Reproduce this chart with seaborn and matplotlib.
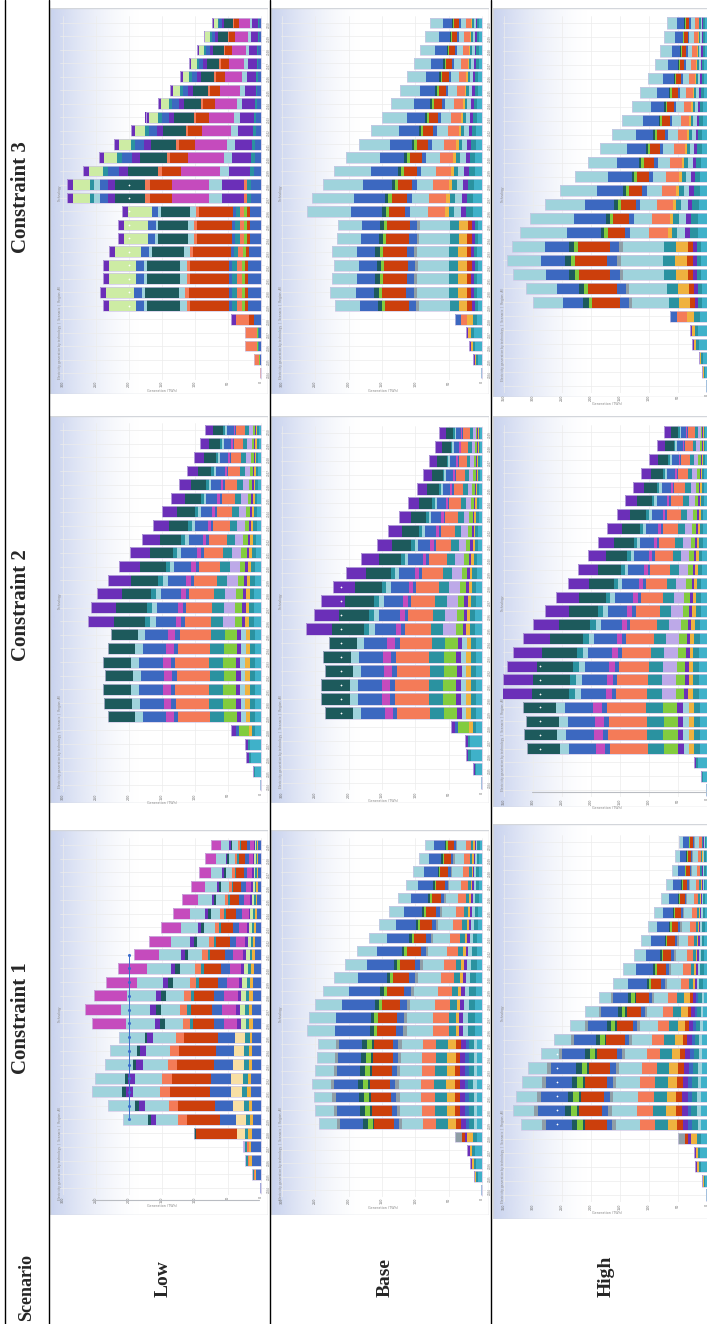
import matplotlib
matplotlib.use("Agg")
import matplotlib.pyplot as plt
from matplotlib.lines import Line2D
from matplotlib.patches import Rectangle
from matplotlib.colors import to_rgb
import numpy as np
import pandas as pd
import seaborn as sns

W, H = 707, 1324
first_year = 2024

scenarios = ["Low", "Base", "High"]
constraints = ["Constraint 1", "Constraint 2", "Constraint 3"]

tech_colors = {
    "lb": "#9fd3dc", "bl": "#3c68c0", "rd": "#cc3f0c", "sa": "#f47b58",
    "dt": "#1d5a5c", "mg": "#c54bbd", "pu": "#6b2fb8", "lg": "#cdeca4",
    "te": "#2a92a0", "la": "#bda9e8", "go": "#efb23f", "gr": "#82cc3e",
    "py": "#f8dfa4", "cy": "#3fb1c9", "gy": "#8f9ea6",
}

# bar totals per year, first year (bottom bar) first
low_c3_totals = [2, 11, 24, 24, 45, 240, 244, 240, 240, 230, 217, 216, 210, 294,
                 294, 269, 245, 222, 197, 175, 156, 138, 122, 109, 97, 87, 74]
low_c2_totals = [2, 12, 22, 24, 45, 232, 238, 240, 236, 240, 232, 228, 262, 258,
                 248, 232, 215, 198, 180, 164, 150, 136, 124, 112, 102, 93, 85]
low_c1_totals = [2, 14, 25, 27, 102, 209, 232, 256, 251, 236, 229, 215, 256, 266,
                 253, 235, 216, 193, 170, 152, 134, 119, 106, 94, 85, 76]
base_c3_totals = [2, 13, 20, 24, 40, 220, 228, 225, 222, 225, 218, 216, 262, 255,
                  238, 222, 204, 184, 166, 150, 136, 123, 112, 102, 93, 85, 78]
base_c2_totals = [2, 13, 24, 25, 47, 235, 241, 241, 236, 239, 229, 264, 252, 241,
                  224, 204, 181, 158, 141, 125, 111, 97, 88, 79, 70, 64]
base_c1_totals = [2, 12, 18, 22, 40, 245, 250, 252, 255, 250, 248, 246, 262, 260,
                  250, 238, 222, 205, 188, 170, 154, 140, 126, 114, 104, 95, 86]
high_c3_totals = [2, 8, 14, 26, 30, 64, 300, 312, 335, 345, 336, 322, 305, 280,
                  253, 228, 206, 184, 164, 146, 129, 115, 101, 89, 81, 74, 69]
high_c2_totals = [2, 10, 22, 310, 315, 312, 318, 355, 352, 345, 335, 318, 300, 280,
                  260, 240, 222, 205, 188, 172, 156, 142, 128, 114, 100, 86, 74]
high_c1_totals = [2, 8, 20, 23, 50, 320, 335, 329, 319, 309, 287, 263, 236, 210,
                  186, 162, 145, 126, 114, 102, 91, 79, 70, 60, 56, 49]

# which technology mix each bar follows
low_c3_phases = "sssse" + "p" * 8 + "kk" + "d" * 12
low_c2_phases = "sssse" + "p" * 7 + "d" * 15
low_c1_phases = "sssse" + "p" * 7 + "d" * 14
base_c3_phases = "sssse" + "p" * 7 + "d" * 15
base_c2_phases = "sssse" + "p" * 6 + "d" * 15
base_c1_phases = "sssse" + "p" * 7 + "d" * 15
high_c3_phases = "ssssse" + "p" * 5 + "d" * 16
high_c2_phases = "sss" + "p" * 4 + "d" * 20
high_c1_phases = "sssse" + "p" * 10 + "d" * 11

# technology shares (%), listed from the axis outwards
low_c3_mix = {
    "s": [("bl", 12), ("te", 8), ("gr", 8), ("sa", 72)],
    "e": [("bl", 25), ("rd", 15), ("sa", 45), ("pu", 15)],
    "p": [("bl", 8), ("rd", 2), ("gr", 2), ("sa", 3), ("te", 3), ("bl", 2), ("rd", 25),
          ("sa", 2), ("lb", 4), ("dt", 21), ("lb", 2), ("bl", 5), ("lg", 17), ("pu", 4)],
    "k": [("bl", 5), ("te", 2), ("sa", 2), ("pu", 11), ("lb", 7), ("mg", 19), ("rd", 11),
          ("sa", 3), ("dt", 15), ("pu", 4), ("bl", 4), ("lb", 3), ("te", 2), ("lg", 9), ("pu", 3)],
    "d": [("bl", 4), ("te", 2), ("pu", 12), ("lb", 5), ("mg", 22), ("rd", 11), ("sa", 2),
          ("dt", 17), ("pu", 5), ("bl", 6), ("te", 3), ("lg", 8), ("pu", 3)],
}
low_c1_mix = {
    "s": [("bl", 55), ("go", 15), ("sa", 10), ("te", 10), ("la", 10)],
    "e": [("bl", 14), ("go", 5), ("te", 5), ("py", 12), ("rd", 61), ("dt", 3)],
    "p": [("bl", 6), ("go", 2), ("te", 3), ("py", 7), ("bl", 12), ("rd", 24), ("sa", 6),
          ("lb", 16), ("pu", 4), ("dt", 2), ("lb", 18)],
    "d": [("bl", 5), ("go", 2), ("te", 2), ("lg", 3), ("pu", 2), ("mg", 8), ("bl", 6),
          ("rd", 12), ("te", 2), ("sa", 4), ("lb", 11), ("dt", 3), ("pu", 3), ("lb", 17), ("mg", 20)],
}
c2_mix = {
    "s": [("cy", 70), ("te", 15), ("pu", 15)],
    "e": [("cy", 20), ("te", 10), ("go", 10), ("gr", 35), ("bl", 10), ("pu", 15)],
    "p": [("cy", 4), ("te", 3), ("go", 3), ("lb", 3), ("pu", 3), ("gr", 8), ("te", 9),
          ("sa", 21), ("bl", 3), ("mg", 5), ("bl", 15), ("lb", 5), ("dt", 18)],
    "d": [("cy", 4), ("te", 3), ("go", 2), ("pu", 2), ("gr", 4), ("la", 7), ("te", 7),
          ("sa", 15), ("bl", 2), ("mg", 3), ("bl", 12), ("lb", 3), ("te", 3), ("dt", 18), ("pu", 15)],
}
c3_mix = {
    "s": [("cy", 50), ("te", 20), ("go", 15), ("pu", 15)],
    "e": [("cy", 20), ("te", 15), ("go", 20), ("sa", 25), ("bl", 20)],
    "p": [("cy", 3), ("te", 2), ("pu", 2), ("rd", 3), ("go", 6), ("te", 6), ("lb", 21),
          ("gy", 2), ("bl", 5), ("rd", 16), ("gr", 2), ("dt", 3), ("bl", 12), ("lb", 17)],
    "d": [("cy", 5), ("te", 4), ("pu", 3), ("lb", 4), ("te", 3), ("go", 2), ("sa", 10),
          ("lb", 10), ("bl", 3), ("rd", 9), ("gr", 2), ("dt", 2), ("bl", 18), ("lb", 25)],
}
c1_mix = {
    "s": [("cy", 50), ("te", 20), ("go", 15), ("pu", 15)],
    "e": [("cy", 20), ("te", 15), ("go", 20), ("pu", 10), ("rd", 10), ("gy", 25)],
    "p": [("cy", 3), ("lb", 2), ("te", 3), ("bl", 2), ("pu", 3), ("rd", 3), ("go", 5),
          ("te", 7), ("sa", 8), ("lb", 13), ("gy", 2), ("bl", 3), ("rd", 12), ("dt", 1),
          ("gr", 3), ("dt", 3), ("bl", 14), ("gy", 2), ("lb", 11)],
    "d": [("cy", 4), ("te", 4), ("lb", 3), ("pu", 2), ("go", 2), ("te", 4), ("sa", 9),
          ("lb", 15), ("gy", 2), ("bl", 4), ("rd", 11), ("gr", 2), ("dt", 2), ("bl", 20), ("lb", 16)],
}

# demand-type markers: value, first and last bar
low_c3_marks = (200, 5, 14)
low_c1_line = (200, 5, 17)
base_c2_marks = (212, 5, 15)
high_c2_marks = (288, 3, 9)
high_c1_marks = (259, 5, 10)

# grey reference rules below the first bar: from value, to value, offset in bars
low_c1_rule = (3, 256, 0.9)
high_c2_rule = (0, 302, 0.15)

panels = [
    dict(totals=low_c3_totals, phases=low_c3_phases, mix=low_c3_mix, frame=(50, 8, 268, 394),
         base=261, scale=0.66, top=23, bottom=373, vmax=300, marks=low_c3_marks),
    dict(totals=base_c3_totals, phases=base_c3_phases, mix=c3_mix, frame=(271, 8, 489, 394),
         base=482, scale=0.667, top=23, bottom=373, vmax=300),
    dict(totals=high_c3_totals, phases=high_c3_phases, mix=c3_mix, frame=(493, 8, 722, 397),
         base=707, scale=0.58, top=23, bottom=386, vmax=350, years_shown=False),
    dict(totals=low_c2_totals, phases=low_c2_phases, mix=c2_mix, frame=(50, 416, 268, 803),
         base=261, scale=0.66, top=430, bottom=785, vmax=300),
    dict(totals=base_c2_totals, phases=base_c2_phases, mix=c2_mix, frame=(271, 416, 489, 803),
         base=482, scale=0.667, top=433, bottom=783, vmax=300, marks=base_c2_marks),
    dict(totals=high_c2_totals, phases=high_c2_phases, mix=c2_mix, frame=(493, 416, 722, 807),
         base=707, scale=0.58, top=432, bottom=790, vmax=350, marks=high_c2_marks,
         rule=high_c2_rule, years_shown=False),
    dict(totals=low_c1_totals, phases=low_c1_phases, mix=low_c1_mix, frame=(50, 830, 268, 1215),
         base=261, scale=0.66, top=845, bottom=1188, vmax=300, line=low_c1_line,
         rule=low_c1_rule),
    dict(totals=base_c1_totals, phases=base_c1_phases, mix=c1_mix, frame=(271, 830, 489, 1215),
         base=482, scale=0.667, top=845, bottom=1190, vmax=300),
    dict(totals=high_c1_totals, phases=high_c1_phases, mix=c1_mix, frame=(493, 824, 722, 1219),
         base=707, scale=0.58, top=842, bottom=1195, vmax=350, marks=high_c1_marks,
         years_shown=False),
]

sns.set_theme(style="whitegrid")
fig = plt.figure(figsize=(W / 100, H / 100), dpi=100)


def px_rect(x0, y0, x1, y1):
    return [x0 / W, 1 - y1 / H, (x1 - x0) / W, (y1 - y0) / H]


def stack_segments(totals, phases, mix):
    rows = []
    for i, (tot, ph) in enumerate(zip(totals, phases)):
        parts = mix[ph]
        s = sum(p for _, p in parts)
        left = 0.0
        for key, p in parts:
            w = tot * p / s
            rows.append((i, left, w, tech_colors[key]))
            left += w
    return pd.DataFrame(rows, columns=["year", "left", "width", "color"])


grad = np.zeros((1, 256, 4))
grad[..., :3] = to_rgb("#c8d2ee")
grad[..., 3] = np.linspace(1, 0, 256) ** 1.6


def draw_panel(p):
    x0, y0, x1, y1 = p["frame"]
    fr = fig.add_axes(px_rect(x0, y0, x1, y1))
    fr.set_xlim(0, 1)
    fr.set_ylim(0, 1)
    fr.axis("off")
    fr.add_patch(Rectangle((0, 0), 1, 1, facecolor="white", edgecolor="none", zorder=0))
    fr.imshow(grad, extent=(0, 0.42, 0, 1), aspect="auto", zorder=1)
    fr.add_patch(Rectangle((0, 0), 1, 1, fill=False, edgecolor="#d3d6db", lw=1.0, zorder=2))
    fr.text(0.045, 0.04, "Electricity generation by technology  |  Scenario  |  Region: All",
            rotation=90, fontsize=2.2, color="#8a8a8a", ha="center", va="bottom")
    fr.text(0.045, 0.52, "Technology", rotation=90, fontsize=2.2, color="#8a8a8a",
            ha="center", va="center")

    totals = p["totals"]
    n = len(totals)
    sp = (p["bottom"] - p["top"]) / (n - 1)
    left_px = x0 + 10
    ax = fig.add_axes(px_rect(left_px, p["top"] - sp / 2, p["base"] + 4, p["bottom"] + sp / 2))
    ax.set_facecolor("none")
    years = [str(first_year + i) for i in range(n)]
    order = years[::-1]

    sns.barplot(x=totals, y=years, order=order, orient="h", fill=False, color="#cfc7e6",
                linewidth=0.5, width=0.8, errorbar=None, ax=ax, zorder=3)
    seg = stack_segments(totals, p["phases"], p["mix"])
    ax.barh(n - 1 - seg["year"], seg["width"], left=seg["left"], height=0.8,
            color=seg["color"], linewidth=0, zorder=2)

    if "marks" in p:
        v, a, b = p["marks"]
        idx = np.arange(a, b + 1)
        ax.scatter([v] * len(idx), n - 1 - idx, marker="+", s=4, color="white", lw=0.5, zorder=4)
    if "line" in p:
        v, a, b = p["line"]
        idx = np.arange(a, b + 1)
        ax.plot([v] * len(idx), n - 1 - idx, color="#3b6dcc", lw=0.7, marker="o", ms=1.2, zorder=4)
    if "rule" in p:
        v0, v1, off = p["rule"]
        ax.plot([v0, v1], [n - 1 + off] * 2, color="#b9bcc2", lw=0.8, clip_on=False, zorder=4)

    ax.set_xlim((p["base"] - left_px) / p["scale"], -4 / p["scale"])
    ax.set_ylim(n - 0.5, -0.5)
    ax.set_xticks(range(0, p["vmax"] + 1, 50))
    ax.tick_params(axis="x", labelsize=2.4, labelcolor="#666666", rotation=90, length=0, pad=1)
    ax.yaxis.tick_right()
    ax.tick_params(axis="y", labelsize=2.0, labelcolor="#777777", rotation=90, length=0, pad=1)
    if not p.get("years_shown", True):
        # the year labels of the right column fall outside the page
        ax.tick_params(axis="y", labelright=False)
    ax.set_ylabel("")
    ax.set_xlabel("Generation (TWh)", fontsize=2.4, color="#888888", labelpad=1)
    ax.grid(True, color="#ececec", lw=0.5)
    ax.set_axisbelow(True)
    for s in ax.spines.values():
        s.set_visible(False)


for p in panels:
    draw_panel(p)

# table rules
for x in [5, 49, 270, 491]:
    fig.add_artist(Line2D([x / W, x / W], [0, 1], color="black", lw=1.0))

serif = ["Liberation Serif", "DejaVu Serif"]
head_y = {"Constraint 1": 1018, "Constraint 2": 605, "Constraint 3": 197}
for c in constraints:
    fig.text(21 / W, 1 - head_y[c] / H, c, rotation=90, ha="center", va="center",
             fontsize=15, fontweight="bold", family=serif)
fig.text(27 / W, 1 - 1321 / H, "Scenario", rotation=90, ha="center", va="bottom",
         fontsize=13, fontweight="bold", family=serif)
label_x = {"Low": 163, "Base": 385, "High": 606}
for s in scenarios:
    fig.text(label_x[s] / W, 1 - 1297 / H, s, rotation=90, ha="center", va="bottom",
             fontsize=14, fontweight="bold", family=serif)

fig.savefig("out.png", dpi=100)
